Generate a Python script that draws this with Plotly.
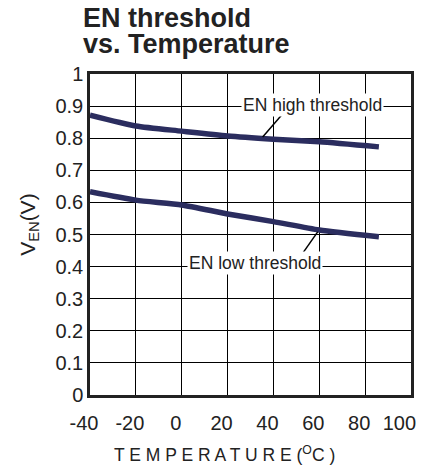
import plotly.graph_objects as go

# values
temp = [-40, -20, 0, 20, 40, 60, 86]
en_high = [0.872, 0.838, 0.822, 0.807, 0.797, 0.789, 0.773]
en_low = [0.633, 0.607, 0.592, 0.564, 0.540, 0.514, 0.493]

x_ticks = [-40, -20, 0, 20, 40, 60, 80, 100]
x_labels = ["-40", "-20", "0", "20", "40", "60", "80", "100\u2007"]
y_ticks = [0, 0.1, 0.2, 0.3, 0.4, 0.5, 0.6, 0.7, 0.8, 0.9, 1]
y_labels = ["0", "0.1", "0.2", "0.3", "0.4", "0.5", "0.6", "0.7", "0.8", "0.9", "1"]

line_col = "#2b2d5f"
txt_col = "#222"
font = "Liberation Sans, Arial, sans-serif"

fig = go.Figure()
for ys in [en_high, en_low]:
    fig.add_trace(go.Scatter(x=temp, y=ys, mode="lines", line=dict(color=line_col, width=5.5, shape="spline", smoothing=0.6),
                             showlegend=False, hoverinfo="skip"))

# leader lines from labels to curves
fig.add_shape(type="line", x0=35.3, y0=0.804, x1=43.6, y1=0.872, line=dict(color="black", width=1.5))
fig.add_shape(type="line", x0=59.3, y0=0.508, x1=52.8, y1=0.442, line=dict(color="black", width=1.5))

fig.add_annotation(x=57.1, y=0.902, text="EN high threshold", showarrow=False, bgcolor="white", borderpad=1,
                   font=dict(size=17.5, color=txt_col, family=font))
fig.add_annotation(x=32.1, y=0.41, text="EN low threshold", showarrow=False, bgcolor="white", borderpad=1,
                   font=dict(size=17.5, color=txt_col, family=font))

# title lines and axis titles placed as paper annotations
for txt, yy in [("<b>EN threshold</b>", 1.1729), ("<b>vs. Temperature</b>", 1.0935)]:
    fig.add_annotation(xref="paper", yref="paper", x=-0.028, y=yy, xanchor="left", yanchor="middle",
                       showarrow=False, text=txt, font=dict(size=27, color=txt_col, family=font))
fig.add_annotation(xref="paper", yref="paper", x=0.419, y=-0.224, showarrow=False,
                   text="T E M P E R A T U R E (<sup>O</sup>C )",
                   font=dict(size=17.5, color=txt_col, family=font))
fig.add_annotation(xref="paper", yref="paper", x=-0.237, y=0.53, showarrow=False, textangle=-90,
                   text="V<sub>EN</sub>(V)", font=dict(size=21, color=txt_col, family=font))

fig.update_xaxes(range=[-40, 100], tickvals=x_ticks, ticktext=x_labels, showgrid=True, gridcolor="black", gridwidth=1,
                 showline=True, linecolor=txt_col, linewidth=2.5, mirror=True, zeroline=False, ticks="",
                 ticklabelshift=-6, ticklabelstandoff=8, ticklabeloverflow="allow", automargin=False,
                 tickfont=dict(size=20, color=txt_col, family=font))
fig.update_yaxes(range=[0, 1], tickvals=y_ticks, ticktext=y_labels, showgrid=True, gridcolor="black", gridwidth=1,
                 showline=True, linecolor=txt_col, linewidth=2.5, mirror=True, zeroline=False, ticks="",
                 automargin=False, tickfont=dict(size=20, color=txt_col, family=font))

# page body adds an 8px margin, so the figure is 8px smaller than the window
fig.update_layout(width=422, height=460, margin=dict(l=82, r=19, t=66, b=73),
                  plot_bgcolor="white", paper_bgcolor="white")

fig.write_html("out.html")
